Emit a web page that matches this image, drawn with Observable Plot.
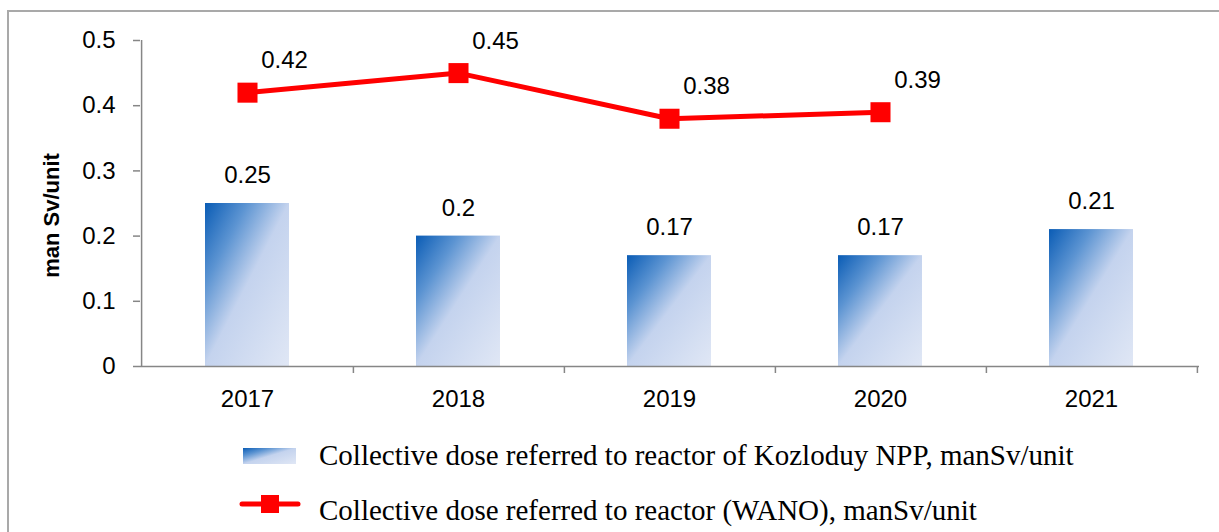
<!DOCTYPE html>
<html>
<head>
<meta charset="utf-8">
<script src="https://cdn.jsdelivr.net/npm/d3@7"></script>
<script src="https://cdn.jsdelivr.net/npm/@observablehq/plot@0.6"></script>
<style>
  html, body { margin: 0; padding: 0; background: #fff; overflow: hidden; }
  #wrap { position: relative; width: 1219px; height: 532px; }
  #border { position: absolute; left: 7px; top: 10px; width: 1300px; height: 600px;
            border: 2px solid #a9a9a9; box-sizing: border-box; pointer-events: none; }
  svg { display: block; }
</style>
</head>
<body>
<div id="wrap">
  <div id="chart"></div>
  <div id="legend"></div>
  <div id="border"></div>
</div>
<script>
const years = ["2017", "2018", "2019", "2020", "2021"];
const kozloduyDose = [0.25, 0.2, 0.17, 0.17, 0.21];
const wanoYears = ["2017", "2018", "2019", "2020"];
const wanoDose = [0.42, 0.45, 0.38, 0.39];
const yTicks = [0, 0.1, 0.2, 0.3, 0.4, 0.5];
const yTitle = "man Sv/unit";
const seriesNames = [
  "Collective dose referred to reactor of Kozloduy NPP, manSv/unit",
  "Collective dose referred to reactor (WANO), manSv/unit"
];

const barData = years.map((year, i) => ({year, value: kozloduyDose[i]}));
const lineData = wanoYears.map((year, i) => ({year, value: wanoDose[i]}));

const W = 1219, H = 420, mL = 140, mR = 20, mT = 40, mB = 54;
const step = (W - mL - mR) / years.length;
const axisGrey = "#868686";
const sans = "'Liberation Sans', Arial, sans-serif";

const chart = Plot.plot({
  width: W, height: H,
  marginLeft: mL, marginRight: mR, marginTop: mT, marginBottom: mB,
  style: {fontFamily: sans, fontSize: "24px", color: "#000", background: "transparent"},
  x: {domain: years, paddingInner: 0.6, paddingOuter: 0.3, axis: null},
  y: {domain: [0, 0.5], axis: null},
  marks: [
    Plot.barY(barData, {x: "year", y: "value", fill: "url(#barGrad)"}),
    Plot.ruleY([0], {stroke: axisGrey, strokeWidth: 1.5}),
    Plot.ruleX([years[0]], {dx: -step / 2, stroke: axisGrey, strokeWidth: 1.5}),
    Plot.axisY({ticks: yTicks, tickSize: 7, tickPadding: 18, stroke: axisGrey,
                strokeWidth: 1.5, tickFormat: d => String(d), label: null, fill: "#000", fontSize: 24}),
    Plot.axisX({tickSize: 7, dx: step / 2, stroke: axisGrey, strokeWidth: 1.5, tickFormat: () => "", label: null}),
    Plot.axisX({tickSize: 0, tickPadding: 23, fill: "#000", fontSize: 24, label: null}),
    Plot.text([yTitle], {frameAnchor: "left", textAnchor: "middle", rotate: -90, dx: -89, dy: 12,
                         fontWeight: "bold", fontSize: 22, fill: "#000"}),
    Plot.text(barData, {x: "year", y: "value", text: d => String(d.value), dy: -28, fill: "#000", fontSize: 24}),
    Plot.line(lineData, {x: "year", y: "value", stroke: "#ff0000", strokeWidth: 5}),
    Plot.dot(lineData, {x: "year", y: "value", symbol: "square", r: 11.3, fill: "#ff0000", stroke: "none"}),
    Plot.text(lineData, {x: "year", y: "value", text: d => String(d.value), dx: 37, dy: -32, fill: "#000", fontSize: 24})
  ]
});

const gradDefs = `
  <linearGradient id="barGrad" x1="0" y1="0" x2="1" y2="1">
    <stop offset="0" stop-color="#0a5cb5"/>
    <stop offset="0.25" stop-color="#5c94d2"/>
    <stop offset="0.5" stop-color="#c4d3ee"/>
    <stop offset="1" stop-color="#e0e7f5"/>
  </linearGradient>`;
d3.select(chart).insert("defs", ":first-child").html(gradDefs);
document.getElementById("chart").appendChild(chart);

// Legend
const leg = d3.select("#legend").append("svg").attr("width", W).attr("height", 112);
leg.append("defs").html(gradDefs.replace('id="barGrad"', 'id="legGrad"'));
const serif = "'Liberation Serif', 'Times New Roman', serif";
leg.append("rect").attr("x", 243).attr("y", 28).attr("width", 53).attr("height", 16).attr("fill", "url(#legGrad)");
leg.append("text").attr("x", 319).attr("y", 45).attr("font-family", serif).attr("font-size", 29)
  .attr("fill", "#000").text(seriesNames[0]);
leg.append("line").attr("x1", 242).attr("x2", 298).attr("y1", 84).attr("y2", 84)
  .attr("stroke", "#ff0000").attr("stroke-width", 5).attr("stroke-linecap", "round");
leg.append("rect").attr("x", 261).attr("y", 75).attr("width", 18).attr("height", 18).attr("fill", "#ff0000");
leg.append("text").attr("x", 319).attr("y", 100).attr("font-family", serif).attr("font-size", 29)
  .attr("fill", "#000").text(seriesNames[1]);
</script>
</body>
</html>
